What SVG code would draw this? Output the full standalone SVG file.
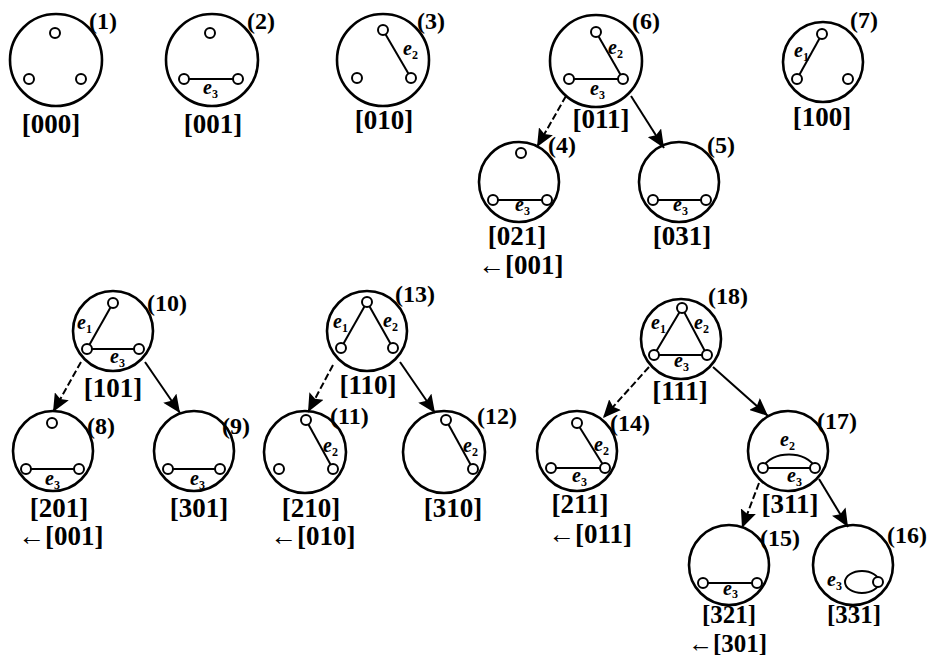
<svg xmlns="http://www.w3.org/2000/svg" width="928" height="658" viewBox="0 0 928 658">
<style>
.big{fill:none;stroke:#000;stroke-width:2.6}
.v{fill:#fff;stroke:#000;stroke-width:2}
.ed{fill:none;stroke:#000;stroke-width:2}
.num{font-family:"Liberation Serif",serif;font-weight:bold;font-size:24px;fill:#000}
.br{font-family:"Liberation Serif",serif;font-weight:bold;font-size:27px;fill:#000;text-anchor:middle}
.bl{font-family:"Liberation Serif",serif;font-weight:bold;font-size:27px;fill:#000}
.sm{font-size:25px}
.e{font-family:"Liberation Serif",serif;font-style:italic;font-weight:bold;font-size:20px;fill:#000}
.s{font-size:12px;font-style:normal}
.sol{stroke:#000;stroke-width:2;fill:none}
.dsh{stroke:#000;stroke-width:2;fill:none;stroke-dasharray:7 3}
</style>
<defs>
<marker id="ah" markerUnits="userSpaceOnUse" markerWidth="19" markerHeight="16" refX="18" refY="8" orient="auto">
<path d="M0,0 L18,8 L0,16 L3,8 z" fill="#000"/>
</marker>
</defs>

<g id="connectors">
<line class="dsh" x1="566" y1="96" x2="537" y2="147" marker-end="url(#ah)"/>
<line class="sol" x1="631" y1="96" x2="664" y2="148" marker-end="url(#ah)"/>
<line class="dsh" x1="81" y1="362" x2="53" y2="412" marker-end="url(#ah)"/>
<line class="sol" x1="145" y1="362" x2="180" y2="413" marker-end="url(#ah)"/>
<line class="dsh" x1="333" y1="365" x2="308" y2="412" marker-end="url(#ah)"/>
<line class="sol" x1="400" y1="362" x2="435" y2="413" marker-end="url(#ah)"/>
<line class="dsh" x1="649" y1="367" x2="603" y2="418" marker-end="url(#ah)"/>
<line class="sol" x1="713" y1="367" x2="768" y2="416" marker-end="url(#ah)"/>
<line class="dsh" x1="759" y1="483" x2="742" y2="528" marker-end="url(#ah)"/>
<line class="sol" x1="819" y1="479" x2="848" y2="527" marker-end="url(#ah)"/>
</g>

<g id="n1">
<circle class="big" cx="56" cy="60" r="46"/>
<circle class="v" cx="55" cy="33" r="5"/><circle class="v" cx="29" cy="79" r="5"/><circle class="v" cx="81" cy="79" r="5"/>
<text class="num" x="89" y="29">(1)</text>
<text class="br" x="51" y="133">[000]</text>
</g>

<g id="n2">
<circle class="big" cx="212" cy="60" r="46"/>
<line class="ed" x1="184" y1="79" x2="238" y2="79"/>
<circle class="v" cx="210" cy="33" r="5"/><circle class="v" cx="184" cy="79" r="5"/><circle class="v" cx="238" cy="79" r="5"/>
<text class="e" x="203" y="94">e<tspan class="s" dy="4">3</tspan></text>
<text class="num" x="247" y="29">(2)</text>
<text class="br" x="213" y="133">[001]</text>
</g>

<g id="n3">
<circle class="big" cx="383" cy="60" r="46"/>
<line class="ed" x1="383" y1="30" x2="411" y2="78"/>
<circle class="v" cx="383" cy="30" r="5"/><circle class="v" cx="357" cy="78" r="5"/><circle class="v" cx="411" cy="78" r="5"/>
<text class="e" x="403" y="55">e<tspan class="s" dy="4">2</tspan></text>
<text class="num" x="417" y="29">(3)</text>
<text class="br" x="384" y="129">[010]</text>
</g>

<g id="n6">
<circle class="big" cx="596" cy="61" r="46"/>
<line class="ed" x1="596" y1="32" x2="623" y2="79"/>
<line class="ed" x1="569" y1="79" x2="623" y2="79"/>
<circle class="v" cx="596" cy="32" r="5"/><circle class="v" cx="569" cy="79" r="5"/><circle class="v" cx="623" cy="79" r="5"/>
<text class="e" x="608" y="54">e<tspan class="s" dy="4">2</tspan></text>
<text class="e" x="590" y="95">e<tspan class="s" dy="4">3</tspan></text>
<text class="num" x="632" y="29">(6)</text>
<text class="br" x="601" y="128">[011]</text>
</g>

<g id="n7">
<circle class="big" cx="823" cy="62" r="40"/>
<line class="ed" x1="797" y1="79" x2="822" y2="34"/>
<circle class="v" cx="822" cy="34" r="5"/><circle class="v" cx="797" cy="79" r="5"/><circle class="v" cx="848" cy="79" r="5"/>
<text class="e" x="794" y="57">e<tspan class="s" dy="4">1</tspan></text>
<text class="num" x="850" y="28">(7)</text>
<text class="br" x="822" y="126">[100]</text>
</g>

<g id="n4">
<circle class="big" cx="519" cy="182" r="40"/>
<line class="ed" x1="493" y1="200" x2="547" y2="200"/>
<circle class="v" cx="521" cy="153" r="5"/><circle class="v" cx="493" cy="200" r="5"/><circle class="v" cx="547" cy="200" r="5"/>
<text class="e" x="515" y="211">e<tspan class="s" dy="4">3</tspan></text>
<text class="num" x="548" y="153">(4)</text>
<text class="br" x="517" y="245">[021]</text>
<text class="bl" x="478" y="274">←[001]</text>
</g>

<g id="n5">
<circle class="big" cx="679" cy="182" r="40"/>
<line class="ed" x1="653" y1="200" x2="706" y2="200"/>
<circle class="v" cx="653" cy="200" r="5"/><circle class="v" cx="706" cy="200" r="5"/>
<text class="e" x="673" y="211">e<tspan class="s" dy="4">3</tspan></text>
<text class="num" x="707" y="153">(5)</text>
<text class="br" x="682" y="245">[031]</text>
</g>

<g id="n10">
<circle class="big" cx="113" cy="331" r="40"/>
<line class="ed" x1="87" y1="349" x2="113" y2="303"/>
<line class="ed" x1="87" y1="349" x2="139" y2="349"/>
<circle class="v" cx="113" cy="303" r="5"/><circle class="v" cx="87" cy="349" r="5"/><circle class="v" cx="139" cy="349" r="5"/>
<text class="e" x="77" y="329">e<tspan class="s" dy="4">1</tspan></text>
<text class="e" x="110" y="363">e<tspan class="s" dy="4">3</tspan></text>
<text class="num" x="147" y="311">(10)</text>
<text class="br" x="113" y="397">[101]</text>
</g>

<g id="n8">
<circle class="big" cx="53" cy="451" r="40"/>
<line class="ed" x1="26" y1="469" x2="79" y2="469"/>
<circle class="v" cx="52" cy="423" r="5"/><circle class="v" cx="26" cy="469" r="5"/><circle class="v" cx="79" cy="469" r="5"/>
<text class="e" x="45" y="485">e<tspan class="s" dy="4">3</tspan></text>
<text class="num" x="87" y="434">(8)</text>
<text class="br" x="59" y="517">[201]</text>
<text class="bl" x="18" y="545">←[001]</text>
</g>

<g id="n9">
<circle class="big" cx="194" cy="451" r="40"/>
<line class="ed" x1="168" y1="469" x2="220" y2="469"/>
<circle class="v" cx="168" cy="469" r="5"/><circle class="v" cx="220" cy="469" r="5"/>
<text class="e" x="190" y="485">e<tspan class="s" dy="4">3</tspan></text>
<text class="num" x="222" y="434">(9)</text>
<text class="br" x="199" y="517">[301]</text>
</g>

<g id="n13">
<circle class="big" cx="367" cy="331" r="40"/>
<line class="ed" x1="367" y1="302" x2="341" y2="348"/>
<line class="ed" x1="367" y1="302" x2="393" y2="348"/>
<circle class="v" cx="367" cy="302" r="5"/><circle class="v" cx="341" cy="348" r="5"/><circle class="v" cx="393" cy="348" r="5"/>
<text class="e" x="333" y="328">e<tspan class="s" dy="4">1</tspan></text>
<text class="e" x="383" y="327">e<tspan class="s" dy="4">2</tspan></text>
<text class="num" x="395" y="302">(13)</text>
<text class="br" x="368" y="394">[110]</text>
</g>

<g id="n11">
<circle class="big" cx="305" cy="452" r="41"/>
<line class="ed" x1="306" y1="420" x2="333" y2="469"/>
<circle class="v" cx="306" cy="420" r="5"/><circle class="v" cx="279" cy="469" r="5"/><circle class="v" cx="333" cy="469" r="5"/>
<text class="e" x="323" y="452">e<tspan class="s" dy="4">2</tspan></text>
<text class="num" x="330" y="424">(11)</text>
<text class="br" x="311" y="517">[210]</text>
<text class="bl" x="270" y="545">←[010]</text>
</g>

<g id="n12">
<circle class="big" cx="444" cy="452" r="41"/>
<line class="ed" x1="446" y1="420" x2="473" y2="469"/>
<circle class="v" cx="446" cy="420" r="5"/><circle class="v" cx="473" cy="469" r="5"/>
<text class="e" x="463" y="452">e<tspan class="s" dy="4">2</tspan></text>
<text class="num" x="477" y="424">(12)</text>
<text class="br" x="453" y="517">[310]</text>
</g>

<g id="n18">
<circle class="big" cx="681" cy="339" r="40"/>
<path class="ed" d="M682,308 L654,355 L707,355 Z"/>
<circle class="v" cx="682" cy="308" r="5"/><circle class="v" cx="654" cy="355" r="5"/><circle class="v" cx="707" cy="355" r="5"/>
<text class="e" x="651" y="329">e<tspan class="s" dy="4">1</tspan></text>
<text class="e" x="694" y="329">e<tspan class="s" dy="4">2</tspan></text>
<text class="e" x="674" y="367">e<tspan class="s" dy="4">3</tspan></text>
<text class="num" x="708" y="304">(18)</text>
<text class="br" x="680" y="400">[111]</text>
</g>

<g id="n14">
<circle class="big" cx="577" cy="451" r="40"/>
<line class="ed" x1="577" y1="423" x2="605" y2="468"/>
<line class="ed" x1="551" y1="468" x2="605" y2="468"/>
<circle class="v" cx="577" cy="423" r="5"/><circle class="v" cx="551" cy="468" r="5"/><circle class="v" cx="605" cy="468" r="5"/>
<text class="e" x="594" y="451">e<tspan class="s" dy="4">2</tspan></text>
<text class="e" x="572" y="482">e<tspan class="s" dy="4">3</tspan></text>
<text class="num" x="610" y="431">(14)</text>
<text class="br" x="580" y="513">[211]</text>
<text class="bl" x="548" y="543">←[011]</text>
</g>

<g id="n17">
<circle class="big" cx="788" cy="451" r="40"/>
<line class="ed" x1="763" y1="468" x2="815" y2="468"/>
<path class="ed" d="M763,468 C770,450 808,450 815,468"/>
<circle class="v" cx="763" cy="468" r="5"/><circle class="v" cx="815" cy="468" r="5"/>
<text class="e" x="780" y="446">e<tspan class="s" dy="4">2</tspan></text>
<text class="e" x="787" y="482">e<tspan class="s" dy="4">3</tspan></text>
<text class="num" x="817" y="429">(17)</text>
<text class="br" x="790" y="513">[311]</text>
</g>

<g id="n15">
<circle class="big" cx="729" cy="565" r="40"/>
<line class="ed" x1="703" y1="583" x2="757" y2="583"/>
<circle class="v" cx="703" cy="583" r="5"/><circle class="v" cx="757" cy="583" r="5"/>
<text class="e" x="723" y="595">e<tspan class="s" dy="3">3</tspan></text>
<text class="num" x="760" y="546">(15)</text>
<text class="br sm" x="729" y="623">[321]</text>
<text class="bl sm" x="688" y="652">←[301]</text>
</g>

<g id="n16">
<circle class="big" cx="853" cy="565" r="40"/>
<ellipse class="ed" cx="862" cy="582" rx="17" ry="11"/>
<circle class="v" cx="878" cy="582" r="5"/>
<text class="e" x="827" y="586">e<tspan class="s" dy="4">3</tspan></text>
<text class="num" x="887" y="543">(16)</text>
<text class="br sm" x="854" y="623">[331]</text>
</g>
</svg>
